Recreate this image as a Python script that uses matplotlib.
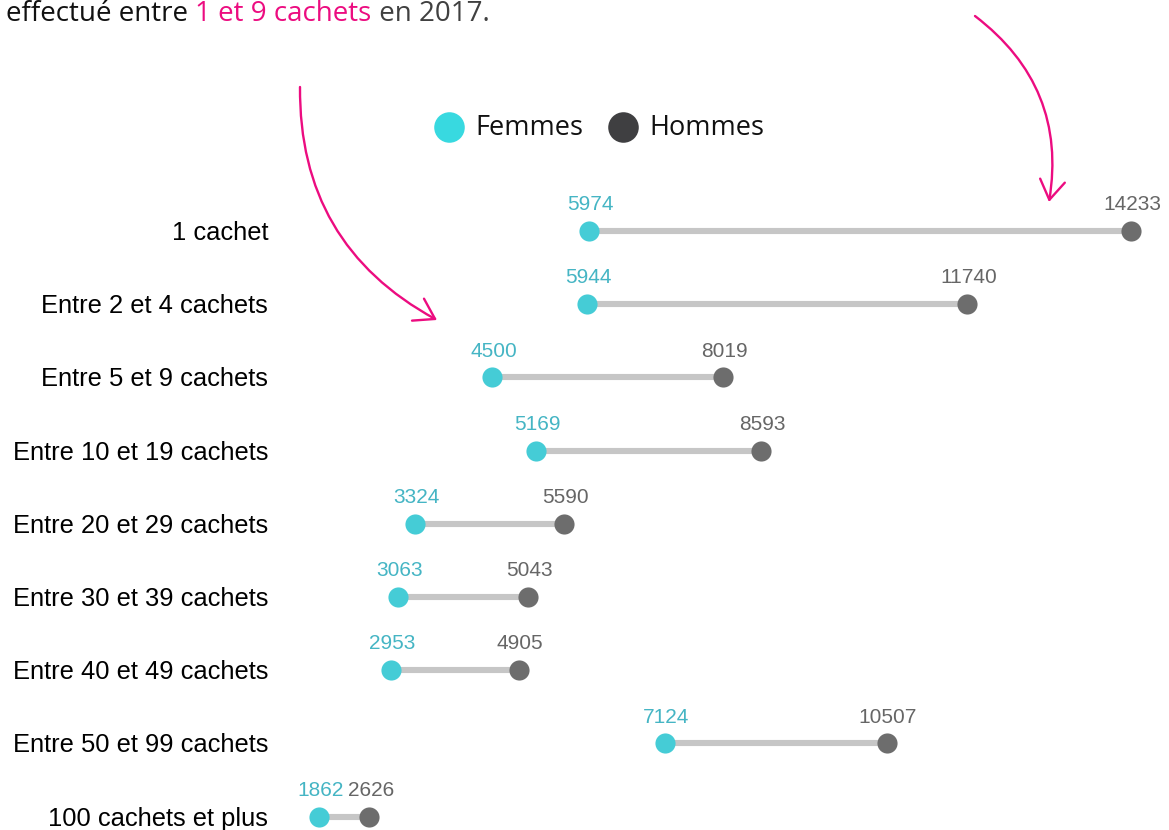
import matplotlib.pyplot as plt
from matplotlib.patches import FancyArrowPatch
import matplotlib.transforms as mtransforms

categories = ["1 cachet", "Entre 2 et 4 cachets", "Entre 5 et 9 cachets",
              "Entre 10 et 19 cachets", "Entre 20 et 29 cachets",
              "Entre 30 et 39 cachets", "Entre 40 et 49 cachets",
              "Entre 50 et 99 cachets", "100 cachets et plus"]
femmes = [5974, 5944, 4500, 5169, 3324, 3063, 2953, 7124, 1862]
hommes = [14233, 11740, 8019, 8593, 5590, 5043, 4905, 10507, 2626]
series = ["Femmes", "Hommes"]

c_f = "#45ccd6"
c_h = "#6d6d6d"
c_f_txt = "#45b5c4"
c_h_txt = "#666666"
c_line = "#c6c6c6"
pink = "#ec0c80"

W, H = 1169, 830
fig = plt.figure(figsize=(W / 100, H / 100), dpi=100)
ax = fig.add_axes([0, 0, 1, 1])

# echelle : 0 a x=197 px, 0.06563 px par unite ; lignes a 231 px, pas 73.2 px
ax.set_xlim(-197 / 0.06563, (W - 197) / 0.06563)
ax.set_ylim((H - 231) / 73.2, -231 / 73.2)
ax.axis("off")

rows = list(range(len(categories)))
ax.hlines(rows, femmes, hommes, color=c_line, lw=4.4, zorder=1)
ax.plot(femmes, rows, "o", ms=14.5, color=c_f, mec="none", zorder=3)
ax.plot(hommes, rows, "o", ms=14.5, color=c_h, mec="none", zorder=3)

trans = mtransforms.blended_transform_factory(ax.transAxes, ax.transData)
for i, cat in enumerate(categories):
    ax.annotate(cat, (268 / W, i), xycoords=trans, xytext=(0, -1.5),
                textcoords="offset points", ha="right", va="center",
                fontsize=18.4, family="Liberation Sans", color="#000000")
    ax.annotate(str(femmes[i]), (femmes[i], i), xytext=(1, 19),
                textcoords="offset points", ha="center", va="center",
                fontsize=15, family="Liberation Sans", color=c_f_txt)
    ax.annotate(str(hommes[i]), (hommes[i], i), xytext=(1, 19),
                textcoords="offset points", ha="center", va="center",
                fontsize=15, family="Liberation Sans", color=c_h_txt)

# surcouche en pixels pour la legende, le texte et les fleches
ov = fig.add_axes([0, 0, 1, 1], facecolor="none")
ov.set_xlim(0, W)
ov.set_ylim(H, 0)
ov.axis("off")

for (cx, col), name in zip([(449, "#38d9e0"), (623, "#3f3f41")], series):
    ov.plot(cx, 127, "o", ms=22, color=col, mec="none")
    ov.text(cx + 26, 128, name, fontsize=19.5, family="Open Sans",
            color="#111111", va="center", ha="left")

t1 = ov.text(6, 21, "effectué entre ", fontsize=20, family="Open Sans",
             color="#111111", va="baseline")
t2 = ov.annotate("1 et 9 cachets", xy=(1, 0), xycoords=t1, va="bottom",
                 fontsize=20, family="Open Sans", color=pink)
t3 = ov.annotate(" en 2017.", xy=(1, 0), xycoords=t2, va="bottom",
                 fontsize=20, family="Open Sans", color="#404040")

a1 = FancyArrowPatch((300, 87), (437, 320), connectionstyle="arc3,rad=0.3",
                     arrowstyle="->,head_length=14,head_width=9",
                     color=pink, lw=1.7, shrinkA=0, shrinkB=0)
a2 = FancyArrowPatch((975, 16), (1049, 202), connectionstyle="arc3,rad=-0.3",
                     arrowstyle="->,head_length=14,head_width=9",
                     color=pink, lw=1.7, shrinkA=0, shrinkB=0)
ov.add_patch(a1)
ov.add_patch(a2)

fig.savefig("out.png", dpi=100)
